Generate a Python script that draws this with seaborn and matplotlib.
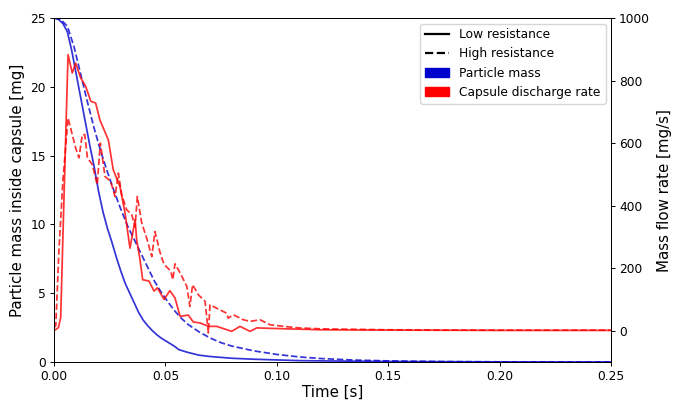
import matplotlib
matplotlib.use("Agg")
import matplotlib.pyplot as plt
import seaborn as sns
import numpy as np
from matplotlib.lines import Line2D
from matplotlib.patches import Patch

# Particle mass inside capsule [mg], low resistance
t_mass_low = [0, 0.002, 0.004, 0.006, 0.008, 0.010, 0.012, 0.014, 0.016, 0.018, 0.020,
              0.022, 0.024, 0.026, 0.028, 0.030, 0.032, 0.034, 0.036, 0.038, 0.040, 0.042,
              0.044, 0.046, 0.048, 0.050, 0.052, 0.054, 0.056, 0.060, 0.065, 0.070, 0.080,
              0.090, 0.100, 0.110, 0.120, 0.140, 0.160, 0.200, 0.250]
mass_low = [25, 24.9, 24.6, 24.0, 22.6, 20.9, 19.2, 17.5, 15.8, 14.2, 12.4,
            10.9, 9.7, 8.7, 7.6, 6.6, 5.7, 5.0, 4.3, 3.6, 3.05, 2.65,
            2.3, 2.0, 1.75, 1.55, 1.35, 1.15, 0.9, 0.7, 0.5, 0.4, 0.27,
            0.2, 0.15, 0.1, 0.08, 0.05, 0.03, 0.01, 0.0]

# Particle mass inside capsule [mg], high resistance
t_mass_high = [0, 0.003, 0.006, 0.009, 0.012, 0.015, 0.018, 0.021, 0.024, 0.027, 0.030,
               0.033, 0.036, 0.039, 0.042, 0.045, 0.048, 0.051, 0.054, 0.057, 0.060, 0.065,
               0.070, 0.075, 0.080, 0.090, 0.100, 0.110, 0.120, 0.135, 0.150, 0.175, 0.200,
               0.250]
mass_high = [25, 24.9, 24.4, 22.9, 20.9, 18.9, 17.0, 15.3, 13.8, 12.4, 11.1,
             9.9, 8.9, 7.9, 6.9, 5.9, 5.1, 4.4, 3.75, 3.2, 2.75, 2.2,
             1.75, 1.4, 1.15, 0.8, 0.55, 0.37, 0.25, 0.14, 0.08, 0.03, 0.01,
             0.0]

# Capsule discharge rate [mg/s], low resistance
t_flow_low = [0, 0.002, 0.003, 0.0045, 0.0063, 0.0082, 0.0097, 0.012, 0.0142, 0.0165,
              0.0187, 0.0206, 0.0244, 0.0266, 0.0277, 0.0296, 0.0319, 0.0341, 0.0356,
              0.0364, 0.0371, 0.0386, 0.0398, 0.0426, 0.0449, 0.0464, 0.0494, 0.052,
              0.0543, 0.0566, 0.0603, 0.0625, 0.0655, 0.0693, 0.073, 0.0797, 0.0835,
              0.088, 0.091, 0.10, 0.11, 0.12, 0.15, 0.20, 0.25]
flow_low = [0, 10, 42, 430, 883, 824, 856, 808, 782, 734,
            728, 674, 610, 514, 495, 461, 376, 264, 323,
            355, 291, 227, 163, 159, 127, 137, 100, 128,
            105, 46, 50, 28, 25, 14, 14, -2, 14,
            -2, 9, 7, 5, 3, 2, 1, 1]

# Capsule discharge rate [mg/s], high resistance
t_flow_high = [0, 0.0008, 0.0022, 0.004, 0.0063, 0.0082, 0.0097, 0.0112, 0.0127, 0.0138,
               0.015, 0.0172, 0.0194, 0.0208, 0.0229, 0.0254, 0.0274, 0.0289, 0.0304,
               0.0326, 0.0349, 0.0364, 0.0374, 0.0394, 0.0416, 0.0439, 0.0453, 0.0476,
               0.0494, 0.0524, 0.0533, 0.0543, 0.0566, 0.0596, 0.061, 0.0622, 0.0648,
               0.0678, 0.0693, 0.070, 0.073, 0.0775, 0.0782, 0.0805, 0.085, 0.088,
               0.0925, 0.097, 0.103, 0.110, 0.12, 0.13, 0.15, 0.20, 0.25]
flow_high = [10, 16, 255, 480, 680, 627, 585, 553, 627, 627,
             553, 531, 467, 600, 493, 478, 429, 504, 434,
             387, 371, 333, 429, 344, 296, 237, 317, 250,
             212, 191, 163, 214, 185, 142, 78, 147, 115,
             94, -7, 83, 72, 56, 40, 51, 35, 30,
             35, 19, 14, 9, 6, 5, 3, 2, 2]

x_ticks = [0.00, 0.05, 0.10, 0.15, 0.20, 0.25]
y_left_ticks = [0, 5, 10, 15, 20, 25]
y_right_ticks = [0, 200, 400, 600, 800, 1000]

legend_labels = ["Low resistance", "High resistance", "Particle mass", "Capsule discharge rate"]

FS_TICK = 8.8
FS_LABEL = 10.8
BLUE = "mediumblue"
RED = "red"
LW = 1.25

fig = plt.figure(figsize=(6.78, 4.03), dpi=100)
ax = fig.add_axes([54/678, 1 - 362/403, (611-54)/678, (362-18)/403])
ax2 = ax.twinx()

sns.lineplot(x=t_mass_low, y=mass_low, ax=ax, color=BLUE, alpha=0.8, lw=LW,
             estimator=None, sort=False)
sns.lineplot(x=t_mass_high, y=mass_high, ax=ax, color=BLUE, alpha=0.8, lw=LW,
             linestyle="--", estimator=None, sort=False)
sns.lineplot(x=t_flow_low, y=flow_low, ax=ax2, color=RED, alpha=0.8, lw=LW,
             estimator=None, sort=False)
sns.lineplot(x=t_flow_high, y=flow_high, ax=ax2, color=RED, alpha=0.8, lw=LW,
             linestyle="--", estimator=None, sort=False)

ax.set_xlim(0, 0.25)
ax.set_ylim(0, 25)
ax2.set_ylim(-100, 1000)
ax.set_xticks(x_ticks)
ax.set_xticklabels([f"{v:.2f}" for v in x_ticks])
ax.set_yticks(y_left_ticks)
ax2.set_yticks(y_right_ticks)

for a in (ax, ax2):
    a.tick_params(labelsize=FS_TICK, width=0.7, length=3.2, pad=2.5)
    for s in a.spines.values():
        s.set_linewidth(0.7)

ax.set_xlabel("Time [s]", fontsize=FS_LABEL, labelpad=1)
ax.set_ylabel("Particle mass inside capsule [mg]", fontsize=FS_LABEL, labelpad=4)
ax2.set_ylabel("Mass flow rate [mg/s]", fontsize=FS_LABEL, labelpad=5)

handles = [Line2D([0], [0], color="black", lw=1.6, linestyle="-"),
           Line2D([0], [0], color="black", lw=1.6, linestyle="--"),
           Patch(color=BLUE),
           Patch(color=RED)]
ax2.legend(handles, legend_labels, loc="upper right", fontsize=FS_TICK,
           borderaxespad=0.45)

fig.savefig("out.png", dpi=100)
